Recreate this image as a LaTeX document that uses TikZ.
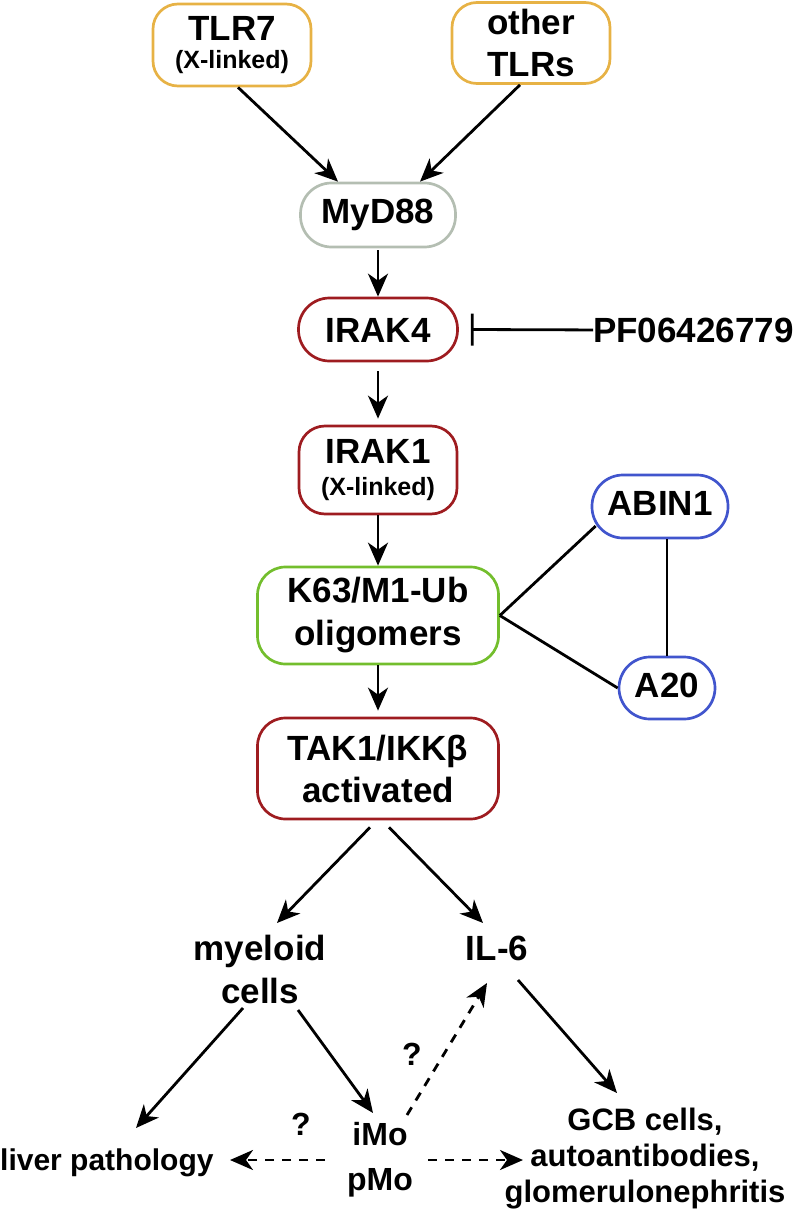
\documentclass[tikz,border=0pt]{standalone}
\usepackage{fontspec}
\setmainfont{Liberation Sans}
\usetikzlibrary{arrows.meta,calc}
\definecolor{gold}{RGB}{231,178,69}
\definecolor{sage}{RGB}{180,190,178}
\definecolor{dred}{RGB}{158,28,32}
\definecolor{lgreen}{RGB}{115,190,45}
\definecolor{lblue}{RGB}{65,85,205}
\tikzset{
  box/.style={draw, line width=2.7pt, rectangle, inner sep=0pt, align=center,
    font=\bfseries\fontsize{35}{42}\selectfont},
  txt/.style={inner sep=0pt, align=center, font=\bfseries\fontsize{35}{43}\selectfont},
  smalltxt/.style={inner sep=0pt, align=center, font=\bfseries\fontsize{31}{36}\selectfont},
  arr/.style={line width=2.8pt, -{Stealth[length=23pt,width=20pt,inset=7pt]}},
  dasharr/.style={arr, dash pattern=on 9pt off 8pt},
  plain/.style={line width=2.8pt},
}
\newcommand{\smallline}[1]{{\fontsize{25}{25}\selectfont #1}}
\begin{document}
\begin{tikzpicture}[x=1pt,y=-1pt]
\useasboundingbox (0,0) rectangle (806,1212);
% boxes
\node[box, draw=gold, minimum width=158pt, minimum height=82pt, rounded corners=25pt,
  font=\bfseries\fontsize{35}{28}\selectfont] (tlr7) at (232,45) {TLR7\\\smallline{(X-linked)}};
\node[box, draw=gold, minimum width=158pt, minimum height=81pt, rounded corners=25pt] (other) at (531,43) {other\\TLRs};
\node[box, draw=sage, minimum width=155pt, minimum height=64pt, rounded corners=31pt,
  text height=25pt, text depth=9pt] (myd88) at (378,215) {MyD88};
\node[box, draw=dred, minimum width=159pt, minimum height=63pt, rounded corners=31pt,
  text height=25pt, text depth=0pt] (irak4) at (378,329.5) {IRAK4};
\node[box, draw=dred, minimum width=158pt, minimum height=88pt, rounded corners=26pt,
  font=\bfseries\fontsize{35}{32}\selectfont] (irak1) at (378,470) {IRAK1\\\smallline{(X-linked)}};
\node[box, draw=lgreen, minimum width=241pt, minimum height=97pt, rounded corners=28pt,
  font=\bfseries\fontsize{35}{43}\selectfont] (k63) at (378,615.5) {K63/M1-Ub\\oligomers};
\node[box, draw=dred, minimum width=241pt, minimum height=101pt, rounded corners=28pt] (tak1) at (378,768.5) {TAK1/IKKβ\\activated};
\node[box, draw=lblue, minimum width=136pt, minimum height=63pt, rounded corners=31pt,
  text height=25pt, text depth=8pt] (abin1) at (660,506.5) {ABIN1};
\node[box, draw=lblue, minimum width=96pt, minimum height=62pt, rounded corners=31pt,
  text height=25pt, text depth=7pt] (a20) at (667,688) {A20};
% free texts
\node[txt, anchor=base west] (pf) at (593,342) {PF06426779};
\node[txt, anchor=base] (il6) at (497,960) {IL-6};
\node[txt] (myel) at (260,969) {myeloid\\cells};
\node[txt, font=\bfseries\fontsize{32}{45}\selectfont] (imo) at (380,1159.5) {iMo\\pMo};
\node[txt, anchor=base west, font=\bfseries\fontsize{30}{36}\selectfont] (liver) at (0,1170) {liver pathology};
\node[smalltxt] (gcb) at (645,1159) {GCB cells,\\autoantibodies,\\glomerulonephritis};
\node[txt, anchor=base, font=\bfseries\fontsize{32}{36}\selectfont] (q1) at (301,1135) {?};
\node[txt, anchor=base, font=\bfseries\fontsize{32}{36}\selectfont] (q2) at (412,1065) {?};
% connectors
\draw[arr] ($(tlr7.south)+(6,0)$) -- ($(myd88.north)+(-40,0)$);
\draw[arr] ($(other.south)+(-11,0)$) -- ($(myd88.north)+(42,0)$);
\draw[arr, shorten <=2pt] (myd88.south) -- (irak4.north);
\draw[arr, shorten <=9pt, shorten >=6pt] (irak4.south) -- (irak1.north);
\draw[arr] (irak1.south) -- (k63.north);
\draw[arr, shorten >=6pt] (k63.south) -- (tak1.north);
\draw[line width=2.8pt, -{Bar[width=32pt,line width=2.8pt]}] (pf.west) -- ($(irak4.east)+(12,0)$);
\draw[plain] (k63.east) -- ($(abin1.west)+(5,19.5)$);
\draw[plain] (k63.east) -- (a20.west);
\draw[plain] (a20.north |- abin1.south) -- (a20.north);
\draw[arr] ($(tak1.south)+(-8,7)$) -- ($(myel)+(17,-46)$);
\draw[arr] ($(tak1.south)+(11,7)$) -- ($(il6.base)+(-14,-37)$);
\draw[arr] ($(myel)+(-17,39)$) -- ($(liver.base west)+(136,-42)$);
\draw[arr] ($(myel)+(38,41)$) -- ($(imo)+(-7,-46.5)$);
\draw[dasharr] ($(imo)+(27,-44.5)$) -- ($(il6.base)+(-10,23)$);
\draw[arr] ($(il6.base)+(21,20)$) -- ($(gcb)+(-28,-66)$);
\draw[dasharr] ($(imo)+(-55,0.5)$) -- ($(liver.base west)+(230,-10)$);
\draw[dasharr] ($(imo)+(48,0.5)$) -- ($(gcb)+(-122,1)$);
\end{tikzpicture}
\end{document}
